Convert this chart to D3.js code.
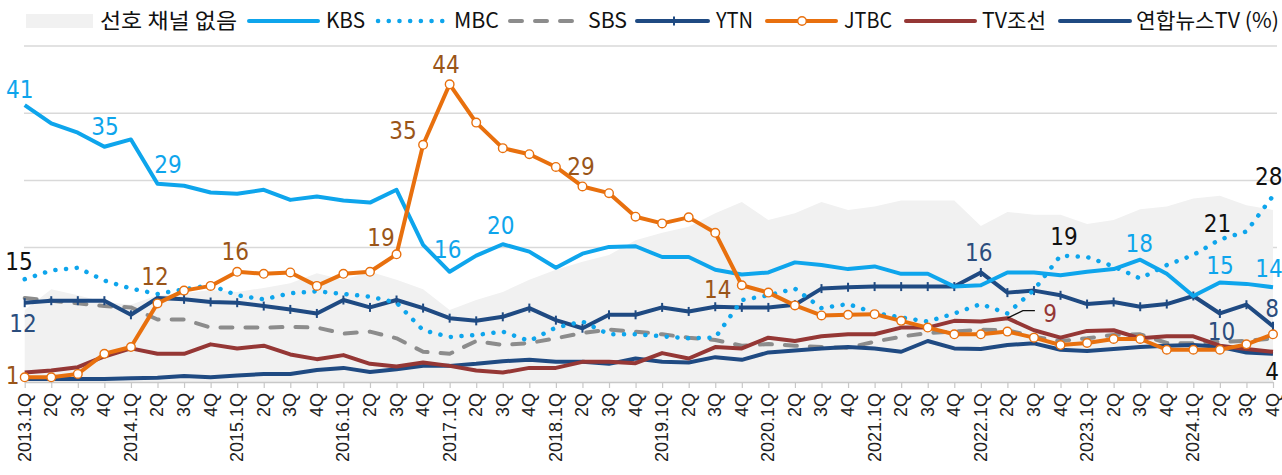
<!DOCTYPE html>
<html><head><meta charset="utf-8">
<script src="https://cdn.jsdelivr.net/npm/d3@7"></script>
<style>
html,body{margin:0;padding:0;background:#fff;}
svg{display:block;}
</style></head>
<body><svg id="c" width="1282" height="475"></svg>
<script>
const tickLabels = ["2013.1Q","2Q","3Q","4Q","2014.1Q","2Q","3Q","4Q","2015.1Q","2Q","3Q","4Q","2016.1Q","2Q","3Q","4Q","2017.1Q","2Q","3Q","4Q","2018.1Q","2Q","3Q","4Q","2019.1Q","2Q","3Q","4Q","2020.1Q","2Q","3Q","4Q","2021.1Q","2Q","3Q","4Q","2022.1Q","2Q","3Q","4Q","2023.1Q","2Q","3Q","4Q","2024.1Q","2Q","3Q","4Q"];
const noPref = [10.7,13.8,12.9,11.9,11.5,12.9,13.2,13.7,13.4,14.0,14.7,16.2,15.2,16.4,15.2,13.8,10.7,12.2,13.4,15.2,16.7,17.9,18.9,21.1,22.2,23.1,25.1,26.8,24.1,25.1,26.8,25.6,26.1,27.0,27.0,27.0,23.2,25.3,24.9,24.9,23.5,24.1,25.7,26.1,27.3,27.7,26.3,25.6];
const kbs = [41.2,38.5,37.1,35.0,36.1,29.5,29.2,28.2,28.0,28.6,27.1,27.6,27.0,26.7,28.6,20.4,16.4,18.8,20.5,19.4,17.0,19.1,20.1,20.2,18.6,18.6,16.7,16.0,16.3,17.8,17.4,16.8,17.2,16.1,16.1,14.2,14.4,16.3,16.3,15.9,16.4,16.8,18.2,16.1,12.8,14.8,14.6,14.1];
const mbc = [15.3,16.6,17.0,15.1,13.9,13.1,13.8,14.4,12.9,12.3,13.2,13.5,13.1,12.7,11.8,7.7,6.7,7.0,7.5,6.1,8.1,9.0,7.1,7.1,6.8,6.5,6.6,12.2,12.9,13.9,11.0,11.6,10.3,9.6,9.0,10.2,11.6,10.2,13.7,18.8,18.6,17.2,15.4,17.4,18.9,21.2,22.4,27.7];
const sbs = [12.5,12.1,11.7,11.3,11.1,9.3,9.3,8.1,8.1,8.1,8.2,8.1,7.2,7.5,6.5,4.5,4.2,6.1,5.5,5.8,6.5,7.3,7.8,7.5,7.1,6.6,6.25,5.4,5.65,5.4,5.2,5.1,6.0,6.75,7.3,7.5,7.8,7.7,6.75,6.1,6.5,7.0,7.1,5.8,5.75,6.0,6.1,6.5];
const ytn = [11.8,12.1,12.1,12.1,10.0,12.5,12.3,11.9,11.8,11.3,10.8,10.2,12.2,11.1,12.2,11.0,9.5,9.1,9.7,11.0,9.2,8.0,10.0,10.0,11.1,10.5,11.2,11.1,11.1,11.5,13.9,14.1,14.2,14.2,14.2,14.2,16.3,13.3,13.6,12.9,11.6,11.9,11.2,11.6,12.8,10.2,11.5,8.3];
const jtbc = [0.7,0.7,1.2,4.2,5.2,11.7,13.6,14.3,16.4,16.1,16.3,14.3,16.1,16.4,19.0,35.3,44.3,38.6,34.8,33.9,32.0,29.1,28.1,24.6,23.6,24.5,22.2,14.4,13.3,11.4,9.9,10.0,10.1,9.1,8.1,7.1,7.1,7.5,6.6,5.5,5.8,6.4,6.4,4.8,4.8,4.8,5.6,7.1];
const tvchosun = [1.4,1.7,2.2,3.8,5.0,4.2,4.2,5.6,5.0,5.4,4.1,3.4,4.0,2.7,2.3,2.9,2.4,1.7,1.4,2.1,2.1,3.0,3.0,2.8,4.3,3.5,5.2,5.0,6.6,6.1,6.8,7.1,7.1,8.1,8.1,9.1,9.0,9.5,7.7,6.6,7.6,7.7,6.5,6.8,6.8,5.4,4.9,4.5];
const yonhap = [0.45,0.45,0.45,0.45,0.55,0.65,0.9,0.7,0.95,1.2,1.2,1.8,2.1,1.5,1.9,2.4,2.4,2.7,3.1,3.3,3.0,3.0,2.7,3.5,3.0,2.9,3.7,3.3,4.4,4.7,5.0,5.2,5.0,4.5,6.1,5.0,4.9,5.5,5.75,4.8,4.6,4.9,5.2,5.4,5.5,5.25,4.4,4.2];
const gridValues = [10,20,30,40,50];
const legendNames = ["선호 채널 없음","KBS","MBC","SBS","YTN","JTBC","TV조선","연합뉴스TV (%)"];
// point labels: series key, index, text
const pointLabels = [
  ["kbs",0,"41"],["kbs",3,"35"],["kbs",5,"29"],["kbs",16,"16"],["kbs",18,"20"],["kbs",42,"18"],["kbs",45,"15"],["kbs",47,"14"],
  ["jtbc",0,"1"],["jtbc",5,"12"],["jtbc",8,"16"],["jtbc",14,"19"],["jtbc",15,"35"],["jtbc",16,"44"],["jtbc",21,"29"],["jtbc",27,"14"],
  ["mbc",0,"15"],["mbc",39,"19"],["mbc",45,"21"],["mbc",47,"28"],
  ["ytn",0,"12"],["ytn",36,"16"],["ytn",45,"10"],["ytn",47,"8"],
  ["tvchosun",37,"9"],["yonhap",47,"4"]
];
const labelOffsets = [
  [-5,-7],[0.6,-12],[10.5,-11],[-2,-14],[-2,-10],[-1,-8],[0,-9],[-4,-10],
  [-12,7],[-2.5,-18],[-2,-12],[-15.5,-8],[-20,-6],[-3.7,-11],[-1.5,-11],[-24,13],
  [-5.7,-9],[3.4,-11],[-2.4,-8],[-4.3,-11],
  [-1.7,29],[-2,-11],[1.6,27],[-1,-9],
  [42.6,3.4],[-1,26]
];

const series = {kbs, mbc, sbs, ytn, jtbc, tvchosun, yonhap};
const colors = {kbs:"#0ea5ec", mbc:"#0ea5ec", sbs:"#8c8c8c", ytn:"#1f4a82", jtbc:"#e8700e", tvchosun:"#953735", yonhap:"#1f4a82"};
const labelColors = {kbs:"#0ea5ec", mbc:"#111", ytn:"#2b4d7d", jtbc:"#9a5518", tvchosun:"#953735", yonhap:"#111"};

const svg = d3.select("#c");
const x = d3.scaleLinear().domain([0, 47]).range([24.7, 1273]);
const y = d3.scaleLinear().domain([0, 50]).range([382, 46]);
const idx = d3.range(48);

// gridlines
svg.append("g").selectAll("line").data(gridValues).join("line")
  .attr("x1", 24).attr("x2", 1277).attr("y1", d => y(d)).attr("y2", d => y(d))
  .attr("stroke", "#d9d9d9").attr("stroke-width", 1.5);

// area
const area = d3.area().x((d,i) => x(i)).y0(y(0)).y1(d => y(d));
svg.append("path").datum(noPref).attr("d", area).attr("fill", "#f1f1f1");

// axis
const axis = d3.axisBottom(x).tickValues(idx).tickFormat(i => tickLabels[i]).tickSize(6).tickSizeOuter(0);
const ax = svg.append("g").attr("transform", `translate(0,${y(0)})`).call(axis);
ax.select(".domain").attr("stroke", "#c8c8c8").attr("stroke-width", 1.5);
ax.selectAll(".tick line").attr("stroke", "#c8c8c8").attr("stroke-width", 1.2);
ax.selectAll(".tick text")
  .attr("transform", "rotate(-90)").attr("x", -11).attr("y", -1).attr("dy", "0.36em")
  .style("text-anchor", "end").style("font-family", "'Liberation Sans', Arial, sans-serif")
  .style("font-size", "18px").attr("fill", "#222");

const line = d3.line().x((d,i) => x(i)).y(d => y(d));
const drawOrder = ["sbs","yonhap","tvchosun","ytn","mbc","kbs","jtbc"];
const styles = {
  sbs: {w:4, dash:"12 13", cap:"round"},
  mbc: {w:4.5, dash:"0.1 10.6", cap:"round"},
  kbs: {w:4, dash:null, cap:"butt"},
  ytn: {w:4, dash:null, cap:"butt"},
  jtbc: {w:4, dash:null, cap:"butt"},
  tvchosun: {w:4, dash:null, cap:"butt"},
  yonhap: {w:4, dash:null, cap:"butt"}
};
drawOrder.forEach(k => {
  const p = svg.append("path").datum(series[k]).attr("d", line).attr("fill", "none")
    .attr("stroke", colors[k]).attr("stroke-width", styles[k].w)
    .attr("stroke-linejoin", "round").attr("stroke-linecap", styles[k].cap);
  if (styles[k].dash) p.attr("stroke-dasharray", styles[k].dash);
  if (k === "ytn") {
    svg.append("g").selectAll("line").data(ytn).join("line")
      .attr("x1", (d,i) => x(i)).attr("x2", (d,i) => x(i))
      .attr("y1", d => y(d) - 4.5).attr("y2", d => y(d) + 4.5)
      .attr("stroke", colors.ytn).attr("stroke-width", 2);
  }
  if (k === "jtbc") {
    svg.append("g").selectAll("circle").data(jtbc).join("circle")
      .attr("cx", (d,i) => x(i)).attr("cy", d => y(d)).attr("r", 4.3)
      .attr("fill", "#fff").attr("stroke", colors.jtbc).attr("stroke-width", 1.4);
  }
});

// leader line for TV조선 label
{
  const px = x(37), py = y(tvchosun[37]);
  svg.append("path").attr("d", `M${px},${py} L${px+15.5},${py-7.6} L${px+27.5},${py-7.6}`)
    .attr("fill", "none").attr("stroke", "#111").attr("stroke-width", 1.3);
}

// point labels
svg.append("g").selectAll("text").data(pointLabels).join("text")
  .attr("x", (d,i) => x(d[1]) + labelOffsets[i][0])
  .attr("y", (d,i) => y(series[d[0]][d[1]]) + labelOffsets[i][1])
  .attr("text-anchor", "middle")
  .style("font-family", "'DejaVu Sans Condensed', 'Liberation Sans Narrow', 'Liberation Sans', sans-serif")
  .style("font-size", "24px")
  .attr("fill", d => labelColors[d[0]])
  .text(d => d[2]);

// legend
const lg = svg.append("g").style("font-family", "'Noto Sans CJK KR', 'Noto Sans', sans-serif").style("font-size", "21px");
const ly = 21;
const legendItems = [
  {name: legendNames[0], type: "area", x0: 26, x1: 93, tx: 100, tw: 137},
  {name: legendNames[1], key: "kbs", x0: 249, x1: 318, tx: 326, tw: 39},
  {name: legendNames[2], key: "mbc", x0: 378, x1: 447, tx: 454, tw: 45},
  {name: legendNames[3], key: "sbs", x0: 510, x1: 580, tx: 588, tw: 39},
  {name: legendNames[4], key: "ytn", x0: 637, x1: 708, tx: 716, tw: 37},
  {name: legendNames[5], key: "jtbc", x0: 767, x1: 836, tx: 844, tw: 48},
  {name: legendNames[6], key: "tvchosun", x0: 906, x1: 975, tx: 982, tw: 64},
  {name: legendNames[7], key: "yonhap", x0: 1060, x1: 1130, tx: 1136, tw: 143}
];
legendItems.forEach(it => {
  if (it.type === "area") {
    lg.append("rect").attr("x", it.x0).attr("y", ly - 7).attr("width", it.x1 - it.x0).attr("height", 14).attr("fill", "#f1f1f1");
  } else {
    const s = styles[it.key];
    const l = lg.append("line").attr("x1", it.x0).attr("x2", it.x1).attr("y1", ly).attr("y2", ly)
      .attr("stroke", colors[it.key]).attr("stroke-width", s.w).attr("stroke-linecap", "round");
    if (s.dash) l.attr("stroke-dasharray", s.dash);
    if (it.key === "ytn") lg.append("line").attr("x1", 674).attr("x2", 674).attr("y1", ly-4.5).attr("y2", ly+4.5).attr("stroke", colors.ytn).attr("stroke-width", 2);
    if (it.key === "jtbc") lg.append("circle").attr("cx", 802).attr("cy", ly).attr("r", 4.3).attr("fill", "#fff").attr("stroke", colors.jtbc).attr("stroke-width", 1.4);
  }
  lg.append("text").attr("x", it.tx).attr("y", ly).attr("dy", "0.35em").attr("fill", "#111")
    .attr("textLength", it.tw).attr("lengthAdjust", "spacingAndGlyphs").text(it.name);
});
</script>
</body></html>
